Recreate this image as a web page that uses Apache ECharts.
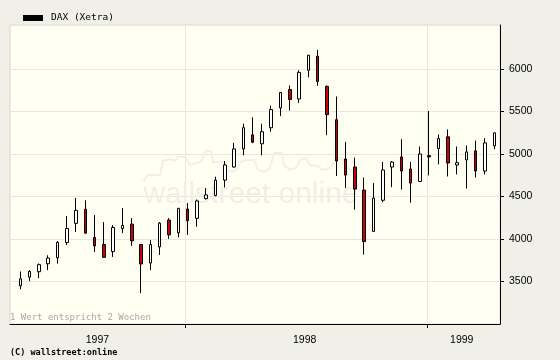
<!DOCTYPE html>
<html>
<head>
<meta charset="utf-8">
<script src="https://cdn.jsdelivr.net/npm/echarts@6/dist/echarts.min.js"></script>
<style>
  html, body { margin: 0; padding: 0; background: #f0f0e8; }
  #chart { width: 560px; height: 360px; }
</style>
</head>
<body>
<div id="chart"></div>
<script>
// Biweekly candles, Apr 1997 - Apr 1999 (1 value = 2 weeks)
const seriesName = 'DAX (Xetra)';
const openVals  = [3449,3551,3615,3709,3779,3958,4184,4350,4018,3935,3852,4124,4175,3935,3717,3907,4223,4073,4353,4243,4475,4511,4693,4847,5060,5226,5120,5309,5542,5759,5648,5985,6150,5795,5404,4942,4847,4575,4089,4456,4847,4966,4824,4677,4981,5064,5202,4871,4930,5037,4800,5096];
const closeVals = [3532,3618,3698,3776,3960,4124,4337,4069,3918,3784,4136,4160,3978,3706,3935,4187,4049,4361,4215,4448,4519,4693,4871,5060,5309,5139,5262,5523,5724,5641,5961,6162,5854,5463,4918,4752,4587,3970,4480,4812,4906,4800,4658,5001,4966,5182,4894,4898,5025,4800,5131,5250];
const lowVals   = [3409,3504,3539,3634,3710,3930,4084,4061,3847,3776,3789,4069,3918,3362,3634,3812,4001,4021,4049,4144,4464,4503,4606,4840,4985,5127,4985,5262,5447,5511,5601,5902,5802,5222,4741,4598,4345,3816,4085,4432,4610,4582,4428,4669,4748,4878,4736,4760,4594,4724,4760,5056];
const highVals  = [3618,3634,3713,3808,3977,4270,4483,4456,4282,4199,4164,4365,4247,3940,3986,4199,4247,4365,4424,4464,4598,4732,4918,5131,5357,5431,5357,5570,5731,5807,5985,6166,6225,5807,5677,5143,4957,4724,4658,4906,4918,5174,4906,5088,5506,5230,5289,5088,5100,5159,5186,5250];

// x axis in candle-index units
const yearLabels = ['1997', '1998', '1999'];
const yearLabelAt = [8.3, 30.6, 47.5];      // middle of each year's span
const yearBoundaryAt = [17.8, 43.8];        // 1 Jan 1998, 1 Jan 1999
const yTickValues = [3500, 4000, 4500, 5000, 5500, 6000];

const candleData = openVals.map((o, i) => [i, o, closeVals[i], lowVals[i], highVals[i]]);

const chart = echarts.init(document.getElementById('chart'), null, { renderer: 'canvas' });

const skyline = [[143,182],[148,175],[160,175],[163,161],[170,159],[175,161],[178,157],[185,157],[190,165],[196,163],[201,162],[204,155],[206,151],[211,151],[213,162],[222,162],[226,170],[232,172],[238,168],[240,162],[246,160],[254,160],[258,170],[265,172],[270,168],[274,153],[282,153],[284,165],[290,170],[296,168],[300,160],[306,158],[310,165],[318,166],[322,170],[330,168],[336,160],[342,158],[346,165],[352,172],[358,180]];

chart.setOption({
  backgroundColor: '#f0f0e8',
  animation: false,
  textStyle: { fontFamily: 'Liberation Sans, Arial, sans-serif' },
  legend: {
    data: [seriesName],
    left: 18, top: 8,
    icon: 'rect', itemWidth: 20, itemHeight: 6, itemGap: 10,
    itemStyle: { color: '#000', borderWidth: 0 },
    textStyle: { fontFamily: 'DejaVu Sans Mono', fontSize: 9.5, color: '#000', padding: [0, 0, 0, 3] }
  },
  grid: {
    left: 10, right: 60, top: 25, bottom: 36,
    show: true, backgroundColor: '#fffff2', borderColor: '#d8d8d8', borderWidth: 1
  },
  xAxis: {
    type: 'value',
    min: -1.108, max: 51.613,
    axisLine: { show: true, onZero: false, lineStyle: { color: '#000', width: 1 } },
    axisTick: { show: true, length: 4, lineStyle: { color: '#000' }, customValues: yearBoundaryAt },
    axisLabel: {
      show: true, margin: 11, fontSize: 10.5, color: '#000',
      customValues: yearLabelAt,
      formatter: function (v) {
        let best = 0;
        yearLabelAt.forEach((p, i) => { if (Math.abs(p - v) < Math.abs(yearLabelAt[best] - v)) best = i; });
        return yearLabels[best];
      }
    },
    splitLine: { show: true, lineStyle: { color: '#e6e6e6', width: 1 } }
  },
  yAxis: {
    type: 'value',
    position: 'right',
    min: 3000, max: 6518, interval: 500,
    axisLine: { show: true, onZero: false, lineStyle: { color: '#000', width: 1 } },
    axisTick: { show: true, length: 4, lineStyle: { color: '#000' }, customValues: yTickValues },
    axisLabel: { margin: 9, fontSize: 10.5, color: '#000', customValues: yTickValues, formatter: v => String(v) },
    splitLine: { show: true, lineStyle: { color: '#e6e6e6', width: 1 } }
  },
  graphic: [
    {
      type: 'polyline', z: 1, silent: true,
      shape: { points: skyline },
      style: { stroke: '#f0f0e8', lineWidth: 2, fill: null }
    },
    {
      type: 'text', z: 1, silent: true,
      x: 251, y: 195,
      style: {
        text: 'wallstreet online', fontSize: 30, fontFamily: 'Liberation Sans, Arial, sans-serif',
        fill: '#efefe7', align: 'center', verticalAlign: 'middle'
      }
    },
    {
      type: 'text', z: 5, silent: true, x: 10, y: 318,
      style: { text: '1 Wert entspricht 2 Wochen', fontSize: 9, fontFamily: 'DejaVu Sans Mono', fill: '#a8a8a8', verticalAlign: 'middle' }
    },
    {
      type: 'text', z: 5, silent: true, x: 10, y: 353,
      style: { text: '(C) wallstreet:online', fontSize: 8.5, fontWeight: 'bold', fontFamily: 'DejaVu Sans Mono', fill: '#000', verticalAlign: 'middle' }
    }
  ],
  series: [{
    name: seriesName,
    type: 'candlestick',
    barWidth: 3,
    data: candleData,
    itemStyle: {
      color: '#ffffff', color0: '#cc0000',
      borderColor: '#000', borderColor0: '#000', borderWidth: 1
    }
  }]
});
</script>
</body>
</html>
